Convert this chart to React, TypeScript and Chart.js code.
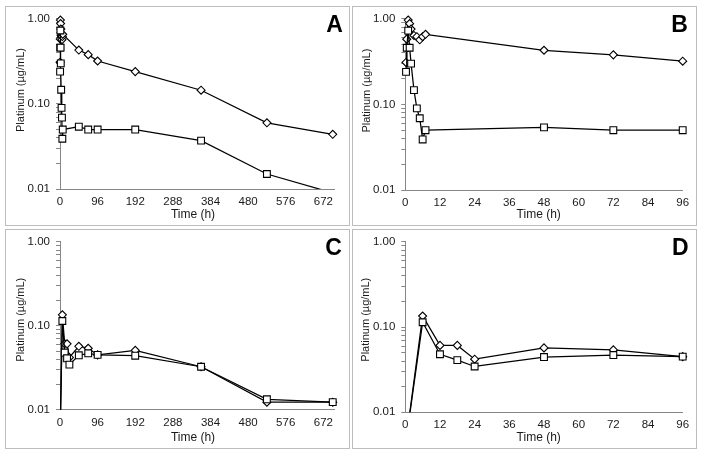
import React, { useEffect, useRef } from 'react';
import { Chart, registerables } from 'chart.js';

Chart.register(...registerables);

// ---- Data ----
const timesAB = [0.25, 0.5, 1, 1.5, 2, 3, 4, 5, 6, 7, 48, 72, 96, 192, 360, 528, 696];
const diamondsAB = [0.31, 0.58, 0.97, 0.88, 0.76, 0.64, 0.62, 0.57, 0.62, 0.66, 0.43, 0.38, 0.32, 0.24, 0.145, 0.06, 0.044];
const squaresAB = [0.24, 0.46, 0.73, 0.46, 0.3, 0.147, 0.09, 0.069, 0.039, 0.05, 0.054, 0.05, 0.05, 0.05, 0.037, 0.015, 0.009];

const timesCD = [0, 6, 12, 18, 24, 48, 72, 96, 192, 360, 528, 696];
const diamondsCD = [0.004, 0.135, 0.061, 0.061, 0.042, 0.057, 0.054, 0.045, 0.051, 0.0325, 0.0123, 0.0123];
const squaresCD = [0.004, 0.114, 0.048, 0.041, 0.0345, 0.0445, 0.047, 0.045, 0.044, 0.0325, 0.0133, 0.0123];

const xTicksLong = [0, 96, 192, 288, 384, 480, 576, 672];
const xTicksShort = [0, 12, 24, 36, 48, 60, 72, 84, 96];
const yTicks = [0.01, 0.02, 0.03, 0.04, 0.05, 0.06, 0.07, 0.08, 0.09, 0.1, 0.2, 0.3, 0.4, 0.5, 0.6, 0.7, 0.8, 0.9, 1];
const yMajor = [0.01, 0.1, 1];

const X_TITLE = 'Time (h)';
const Y_TITLE = 'Platinum (µg/mL)';

const FONT = "'Liberation Sans', Arial, Helvetica, sans-serif";
const TEXT = '#1a1a1a';
const W = 345;
const H = 220;

const PANELS = [
  { letter: 'A', left: 5, top: 6, area: { l: 55, t: 8, r: 329.3, b: 183 }, xMax: 700, xTicks: xTicksLong,
    times: timesAB, dia: diamondsAB, sq: squaresAB, yt: [16, 84], xt: [188, 209], lt: [329.5, 25.5] },
  { letter: 'B', left: 352, top: 6, area: { l: 53.3, t: 7.3, r: 330.7, b: 184 }, xMax: 96, xTicks: xTicksShort,
    times: timesAB, dia: diamondsAB, sq: squaresAB, yt: [14.7, 84.6], xt: [186.7, 209], lt: [327.5, 25.5] },
  { letter: 'C', left: 5, top: 229, area: { l: 55, t: 7.3, r: 329.3, b: 180.7 }, xMax: 700, xTicks: xTicksLong,
    times: timesCD, dia: diamondsCD, sq: squaresCD, yt: [16, 90.7], xt: [188, 208.5], lt: [328.5, 26] },
  { letter: 'D', left: 352, top: 229, area: { l: 53.3, t: 7.3, r: 330.7, b: 183.3 }, xMax: 96, xTicks: xTicksShort,
    times: timesCD, dia: diamondsCD, sq: squaresCD, yt: [14.2, 90.7], xt: [186.7, 208.3], lt: [328.3, 26] },
];

function Panel({ p }: { p: any }) {
  const ref = useRef<HTMLCanvasElement | null>(null);
  useEffect(() => {
    if (!ref.current) return;
    const pts = (vals: number[]) =>
      p.times.map((t: number, i: number) => ({ x: t, y: vals[i] })).filter((d: any) => d.x <= p.xMax);
    const X_AXIS_H = 30;
    const textPlugin = {
      id: 'panelText' + p.letter,
      afterDraw(chart: any) {
        const ctx = chart.ctx;
        ctx.save();
        ctx.fillStyle = TEXT;
        ctx.textAlign = 'center';
        ctx.textBaseline = 'middle';
        ctx.font = `12px ${FONT}`;
        ctx.fillText(X_TITLE, p.xt[0], p.xt[1]);
        ctx.font = `11px ${FONT}`;
        ctx.translate(p.yt[0], p.yt[1]);
        ctx.rotate(-Math.PI / 2);
        ctx.fillText(Y_TITLE, 0, 0);
        ctx.restore();
        ctx.save();
        ctx.fillStyle = '#000';
        ctx.font = `bold 23px ${FONT}`;
        ctx.textAlign = 'center';
        ctx.textBaseline = 'alphabetic';
        ctx.fillText(p.letter, p.lt[0], p.lt[1]);
        ctx.restore();
      },
    };
    const common = {
      borderColor: '#000',
      borderWidth: 1.25,
      pointBackgroundColor: '#fff',
      pointBorderColor: '#000',
      pointBorderWidth: 1.1,
      tension: 0,
      clip: { left: 8, top: 8, right: 8, bottom: 0 },
    };
    const chart = new Chart(ref.current, {
      type: 'line',
      data: {
        datasets: [
          { ...common, label: 'squares', data: pts(p.sq), pointStyle: 'rect', pointRadius: 4.8 },
          { ...common, label: 'diamonds', data: pts(p.dia), pointStyle: 'rectRot', pointRadius: 4 },
        ],
      } as any,
      options: {
        animation: false,
        responsive: false,
        devicePixelRatio: 1,
        layout: {
          padding: { left: 0, top: p.area.t, right: W - p.area.r, bottom: H - p.area.b - X_AXIS_H },
        },
        plugins: { legend: { display: false }, tooltip: { enabled: false } },
        scales: {
          x: {
            type: 'linear',
            min: 0,
            max: p.xMax,
            afterBuildTicks: (s: any) => { s.ticks = p.xTicks.map((v: number) => ({ value: v })); },
            afterFit: (s: any) => { s.height = X_AXIS_H; },
            ticks: {
              autoSkip: false,
              maxRotation: 0,
              padding: 6,
              color: TEXT,
              font: { family: FONT, size: 11.5 },
              callback: (v: any) => String(v),
            },
            grid: { display: true, drawOnChartArea: false, drawTicks: false },
            border: { display: true, color: '#868686', width: 1 },
          },
          y: {
            type: 'logarithmic',
            min: 0.01,
            max: 1,
            afterBuildTicks: (s: any) => { s.ticks = yTicks.map((v) => ({ value: v })); },
            afterFit: (s: any) => { s.width = p.area.l; },
            ticks: {
              autoSkip: false,
              padding: 6,
              color: TEXT,
              font: { family: FONT, size: 11.5 },
              callback: (v: any) => (yMajor.some((m) => Math.abs(m - v) < 1e-9) ? Number(v).toFixed(2) : ''),
            },
            grid: { display: true, drawOnChartArea: false, drawTicks: true, tickLength: 4, color: '#868686' },
            border: { display: true, color: '#868686', width: 1 },
          },
        },
      } as any,
      plugins: [textPlugin],
    });
    return () => chart.destroy();
  }, [p]);
  return (
    <>
      <div
        style={{
          position: 'absolute', left: p.left, top: p.top, width: W, height: H,
          boxSizing: 'border-box', border: '1px solid #bdbdbd',
        }}
      />
      <canvas
        ref={ref}
        width={W}
        height={H}
        style={{ position: 'absolute', left: p.left, top: p.top, width: W, height: H }}
      />
    </>
  );
}

export default function App() {
  return (
    <div style={{ position: 'fixed', left: 0, top: 0, width: 704, height: 457, background: '#fff', overflow: 'hidden' }}>
      {PANELS.map((p) => (
        <Panel key={p.letter} p={p} />
      ))}
    </div>
  );
}
